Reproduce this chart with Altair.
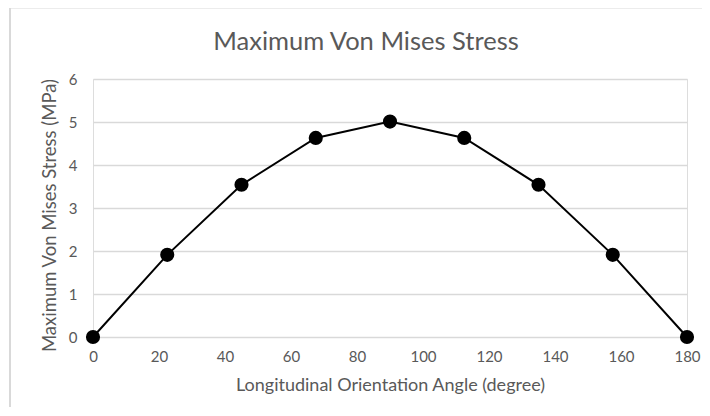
import altair as alt
import pandas as pd

angles = [0, 22.5, 45, 67.5, 90, 112.5, 135, 157.5, 180]
stress = [0, 1.91, 3.54, 4.63, 5.01, 4.63, 3.54, 1.91, 0]
x_ticks = [0, 20, 40, 60, 80, 100, 120, 140, 160, 180]
y_ticks = [0, 1, 2, 3, 4, 5, 6]
title_text = "Maximum Von Mises Stress"

df = pd.DataFrame({"angle": angles, "stress": stress})

FONT = "Lato"
GRAY = "#595959"
GRID = "#d9d9d9"

x = alt.X("angle:Q", scale=alt.Scale(domain=[0, 180], nice=False),
          axis=alt.Axis(values=x_ticks, title="Longitudinal Orientation Angle (degree)",
                        grid=False, domain=False, ticks=False, labelPadding=12,
                        labelFlush=False, titlePadding=12, labelFontSize=15, titleFontSize=18,
                        labelColor=GRAY, titleColor=GRAY, labelFont=FONT, titleFont=FONT,
                        titleFontWeight="normal"))
y = alt.Y("stress:Q", scale=alt.Scale(domain=[0, 6], nice=False),
          axis=alt.Axis(values=y_ticks, title="Maximum Von Mises Stress (MPa)",
                        grid=True, gridColor=GRID, gridWidth=1.5, domain=False, ticks=False,
                        labelPadding=16, titlePadding=9, labelFontSize=15, titleFontSize=18.5,
                        titleY=136, titleAlign="center",
                        labelColor=GRAY, titleColor=GRAY, labelFont=FONT, titleFont=FONT,
                        titleFontWeight="normal"))

line = alt.Chart(df).mark_line(color="black", strokeWidth=2).encode(x=x, y=y)
pts = alt.Chart(df).mark_circle(color="black", size=200, opacity=1).encode(x=x, y=y)

frame = pd.DataFrame({"t": [title_text]})
top_border = alt.Chart(frame).mark_rule(color=GRID, strokeWidth=2, clip=False).encode(
    x=alt.value(-83), x2=alt.value(700), y=alt.value(-71.5))
left_border = alt.Chart(frame).mark_rule(color=GRID, strokeWidth=2, clip=False).encode(
    x=alt.value(-83), y=alt.value(-71.5), y2=alt.value(400))
title = alt.Chart(frame).mark_text(font=FONT, fontSize=25.5, color=GRAY,
                                   align="center", baseline="middle").encode(
    text="t:N", x=alt.value(273), y=alt.value(-37))

chart = alt.layer(top_border, left_border, title, line, pts).properties(
    width=594, height=258,
    autosize=alt.AutoSizeParams(type="none"),
    padding={"left": 85, "top": 71, "right": 15, "bottom": 70},
).configure_view(stroke=None).configure(background="white")

chart.save("out.html", embed_options={"renderer": "svg", "actions": False})
